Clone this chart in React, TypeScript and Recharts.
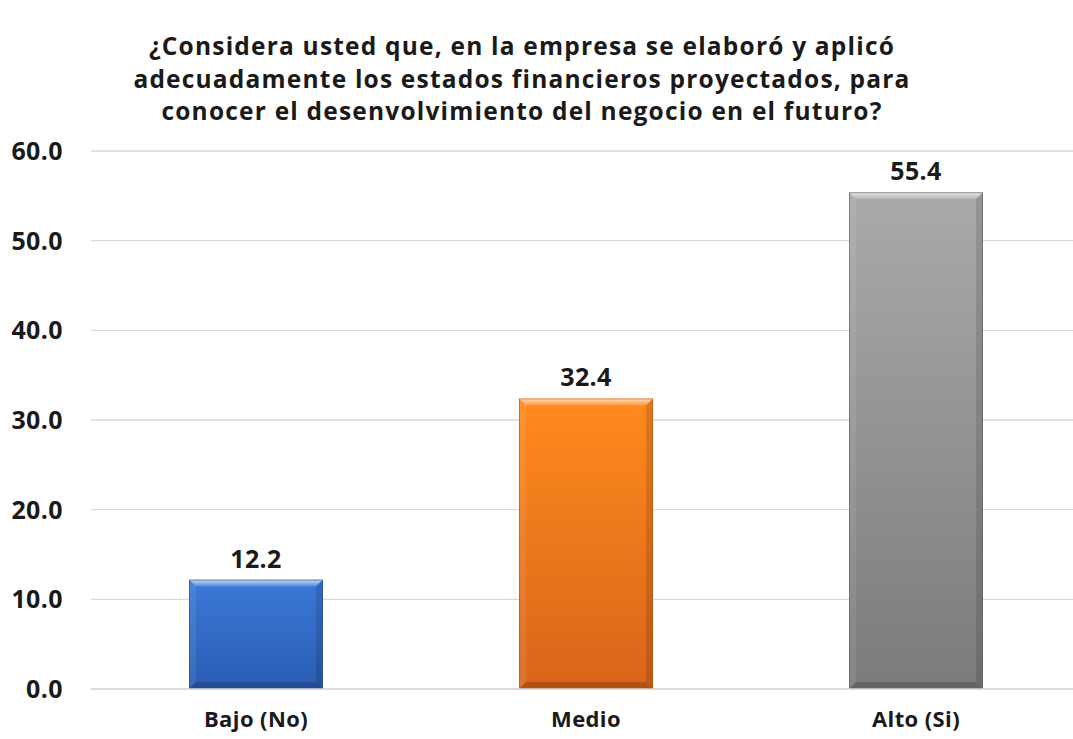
import { BarChart, Bar, XAxis, YAxis, CartesianGrid, LabelList, Cell } from "recharts";

const categories = ["Bajo (No)", "Medio", "Alto (Si)"];
const values = [12.2, 32.4, 55.4];
const yTicks = [0, 10, 20, 30, 40, 50, 60];
const titleLines = [
  "¿Considera usted que, en la empresa se elaboró y aplicó",
  "adecuadamente los estados financieros proyectados, para",
  "conocer el desenvolvimiento del negocio en el futuro?",
];

const barColors = [
  { id: "bajo", top: "#3c79d8", bottom: "#2a5cb3", edge: "#24509c" },
  { id: "medio", top: "#ff8a1e", bottom: "#d8651a", edge: "#b45414" },
  { id: "alto", top: "#aaaaaa", bottom: "#7b7b7b", edge: "#5e5e5e" },
];

const data = categories.map((name, i) => ({ name, value: values[i] }));

const FONT = "'Open Sans', 'Noto Sans', sans-serif";

// Excel-style bevelled bar, drawn inside the rect Recharts gives us
function BevelBar(props: any) {
  const { x, y, width: w, height: h, index } = props;
  if (!h || h <= 0) return null;
  const c = barColors[index];
  const b = 7;
  return (
    <g>
      <rect x={x} y={y} width={w} height={h} fill={`url(#fill-${c.id})`} />
      <polygon
        points={`${x},${y} ${x + w},${y} ${x + w - b},${y + b} ${x + b},${y + b}`}
        fill="url(#bevelTop)"
      />
      <polygon
        points={`${x},${y} ${x + b},${y + b} ${x + b},${y + h - b} ${x},${y + h}`}
        fill="rgba(255,255,255,0.08)"
      />
      <polygon
        points={`${x + w},${y} ${x + w},${y + h} ${x + w - b},${y + h - b} ${x + w - b},${y + b}`}
        fill="rgba(0,0,0,0.12)"
      />
      <polygon
        points={`${x},${y + h} ${x + w},${y + h} ${x + w - b},${y + h - b} ${x + b},${y + h - b}`}
        fill="rgba(0,0,0,0.18)"
      />
      <rect x={x + 0.5} y={y + 0.5} width={w - 1} height={h - 1} fill="none" stroke={c.edge} strokeOpacity={0.6} />
    </g>
  );
}

export default function App() {
  return (
    <div
      style={{
        position: "absolute",
        left: 0,
        top: 0,
        width: 1073,
        height: 739,
        overflow: "hidden",
        background: "#fff",
        fontFamily: FONT,
      }}
    >
      <div
        style={{
          position: "absolute",
          left: 0,
          top: 30,
          width: 1044,
          textAlign: "center",
          fontSize: 24.5,
          fontWeight: 700,
          letterSpacing: 1.2,
          lineHeight: "32.5px",
          color: "#1a1a1a",
        }}
      >
        {titleLines.map((t) => (
          <div key={t}>{t}</div>
        ))}
      </div>
      <div style={{ position: "absolute", left: 0, top: 0 }}>
        <BarChart
          width={1085}
          height={739}
          data={data}
          margin={{ top: 151, right: 4, left: 0, bottom: 0 }}
          barCategoryGap={98}
        >
          <defs>
            {barColors.map((c) => (
              <linearGradient key={c.id} id={`fill-${c.id}`} x1="0" y1="0" x2="0" y2="1">
                <stop offset="0%" stopColor={c.top} />
                <stop offset="100%" stopColor={c.bottom} />
              </linearGradient>
            ))}
            <linearGradient id="bevelTop" x1="0" y1="0" x2="0" y2="1">
              <stop offset="0%" stopColor="#ffffff" stopOpacity={0.75} />
              <stop offset="100%" stopColor="#ffffff" stopOpacity={0.1} />
            </linearGradient>
          </defs>
          <CartesianGrid stroke="#d9d9d9" strokeWidth={1.3} vertical={false} />
          <XAxis
            dataKey="name"
            height={50}
            axisLine={{ stroke: "#d9d9d9", strokeWidth: 1.3 }}
            tickLine={false}
            tickMargin={16}
            tick={{ fill: "#1a1a1a", fontSize: 22, fontWeight: 700, fontFamily: FONT, letterSpacing: 0.4 }}
          />
          <YAxis
            width={91}
            domain={[0, 60]}
            ticks={yTicks}
            axisLine={false}
            tickLine={false}
            tickMargin={22}
            tickFormatter={(v: number) => v.toFixed(1)}
            tick={{ fill: "#1a1a1a", fontSize: 25, fontWeight: 700, fontFamily: FONT, letterSpacing: 0.4 }}
          />
          <Bar dataKey="value" shape={<BevelBar />} isAnimationActive={false}>
            {data.map((d) => (
              <Cell key={d.name} />
            ))}
            <LabelList
              dataKey="value"
              position="top"
              offset={12}
              formatter={(v: any) => Number(v).toFixed(1)}
              style={{ fill: "#1a1a1a", fontSize: 25, fontWeight: 700, fontFamily: FONT, letterSpacing: 0.4 }}
            />
          </Bar>
        </BarChart>
      </div>
    </div>
  );
}
